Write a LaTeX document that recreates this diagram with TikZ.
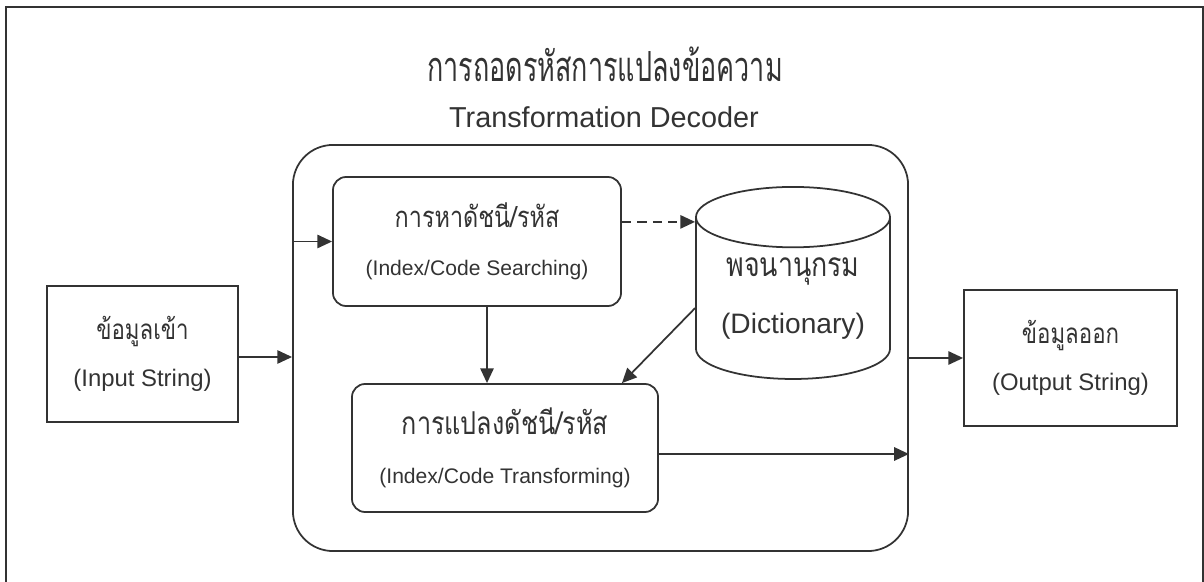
\documentclass[tikz,border=0pt]{standalone}
\usepackage{fontspec}
\setmainfont{Liberation Sans}
\newfontfamily\thaifont[Script=Thai, FakeStretch=0.8]{Loma}
\newfontfamily\thaititle[Script=Thai, FakeStretch=0.65]{Loma}
\usetikzlibrary{shapes.geometric, arrows.meta, positioning}
\definecolor{ink}{HTML}{333333}

% one line of Thai, one line of English, at a given size
\newcommand{\thl}[2]{{\thaifont\fontsize{#1}{#1}\selectfont #2}}
\newcommand{\enl}[2]{{\fontsize{#1}{#1}\selectfont #2}}

\begin{document}
\begin{tikzpicture}[
        x=0.025cm, y=-0.025cm,
        every node/.style={text=ink},
        box/.style      ={rectangle, draw=ink, line width=1.25pt, inner sep=0pt, align=center},
        roundbox/.style ={box, rounded corners=0.33cm},
        store/.style    ={cylinder, shape border rotate=90, aspect=0.42, draw=ink, line width=1.25pt,
                          inner sep=0pt, align=center, minimum width=4.85cm, minimum height=4.8cm},
        arrow/.style    ={-{Triangle[length=10.5pt, width=9.5pt]}, draw=ink, line width=1.25pt},
        dasharrow/.style={arrow, dash pattern=on 6.5pt off 4.5pt}
    ]
    \useasboundingbox (0,0) rectangle (1204,582);
    \draw[ink, line width=1.25pt] (6,582) -- (6,7) -- (1203,7) -- (1203,582);

    \node (title) at (605,64)  {{\thaititle\fontsize{29.5}{29.5}\selectfont การถอดรหัสการแปลงข้อความ}};
    \node (sub)   at (604,117) {\enl{20.5}{Transformation Decoder}};

    \node[box, rounded corners=1cm, minimum width=15.375cm, minimum height=10.15cm] (dec) at (600.5,348) {};

    \node[box, minimum width=4.775cm, minimum height=3.4cm, font=\fontsize{17}{33}\selectfont] (input) at (142.5,354)
        {\thl{19.8}{ข้อมูลเข้า}\\ \enl{17}{(Input String)}};
    \node[roundbox, minimum width=7.2cm, minimum height=3.225cm, font=\fontsize{15}{34}\selectfont] (search) at (477,241.5)
        {\thl{20.8}{การหาดัชนี/รหัส}\\ \enl{15}{(Index/Code Searching)}};
    \node[roundbox, minimum width=7.65cm, minimum height=3.2cm, font=\fontsize{15}{35}\selectfont] (xform) at (505,448)
        {\thl{22.4}{การแปลงดัชนี/รหัส}\\ \enl{15}{(Index/Code Transforming)}};
    \node[store, font=\fontsize{20}{40}\selectfont] (dict) at (793,298.5)
        {\thl{23.8}{พจนานุกรม}\\ \enl{20}{(Dictionary)}};
    \node[box, minimum width=5.325cm, minimum height=3.4cm, font=\fontsize{17}{33}\selectfont] (output) at (1070.5,358)
        {\thl{19.8}{ข้อมูลออก}\\ \enl{17}{(Output String)}};

    \draw[arrow] ([yshift=-0.075cm]input.east) -- ([yshift=-0.075cm]input.east -| dec.west);
    \draw[arrow] (search.west -| dec.west) -- (search.west);
    \draw[dasharrow] ([yshift=0.49cm]search.east) -- ([yshift=0.49cm]search.east -| dict.west);
    \draw[arrow] ([xshift=0.25cm]search.south) -- ([xshift=0.25cm]search.south |- xform.north);
    \draw[arrow] ([yshift=-0.24cm]dict.west) -- ([xshift=-0.925cm]xform.north east);
    \draw[arrow] ([yshift=-0.15cm]xform.east) -- ([yshift=-0.15cm]xform.east -| dec.east);
    \draw[arrow] (output.west -| dec.east) -- (output.west);
\end{tikzpicture}
\end{document}
